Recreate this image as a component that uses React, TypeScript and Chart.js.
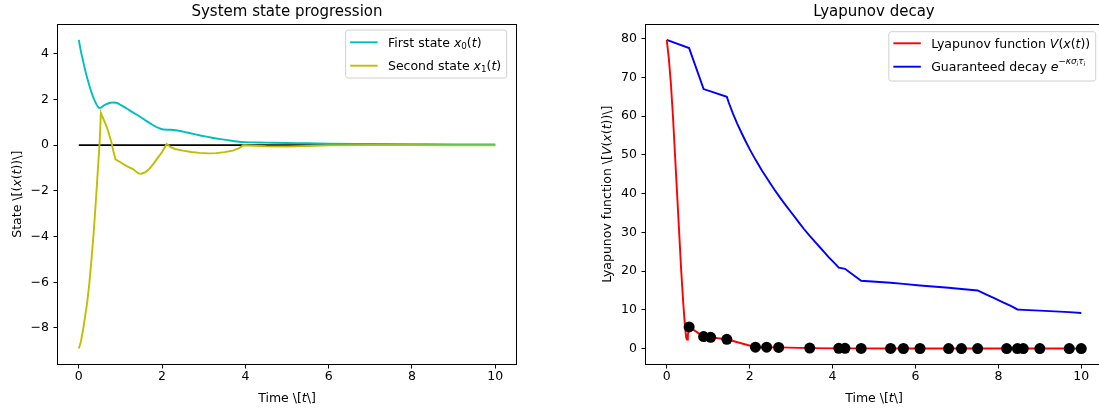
import React, { useEffect, useRef } from 'react';
import { Chart, registerables } from 'chart.js';

Chart.register(...registerables);

// ---------------- data ----------------
const xTickValues = [0, 2, 4, 6, 8, 10];
const xTickLabels = ['0', '2', '4', '6', '8', '10'];

const stateTickValues = [-8, -6, -4, -2, 0, 2, 4];
const stateTickLabels = ['\u22128', '\u22126', '\u22124', '\u22122', '0', '2', '4'];

const lyapTickValues = [0, 10, 20, 30, 40, 50, 60, 70, 80];
const lyapTickLabels = ['0', '10', '20', '30', '40', '50', '60', '70', '80'];

// First state x0(t)
const x0Times = [0, 0.05, 0.1, 0.15, 0.2, 0.25, 0.3, 0.35, 0.4, 0.45, 0.5, 0.55, 0.6, 0.7, 0.8, 0.9, 1.0, 1.15, 1.3, 1.47, 1.6, 1.79, 1.9, 2.03, 2.2, 2.4, 2.6, 2.8, 3.0, 3.2, 3.4, 3.6, 3.8, 4.0, 4.5, 5.0, 5.5, 6.0, 7.0, 8.0, 9.0, 10.0];
const x0Values = [4.6, 4.1, 3.7, 3.3, 2.95, 2.62, 2.33, 2.08, 1.87, 1.7, 1.62, 1.66, 1.73, 1.82, 1.86, 1.85, 1.76, 1.6, 1.43, 1.24, 1.08, 0.87, 0.76, 0.68, 0.67, 0.63, 0.55, 0.47, 0.39, 0.32, 0.26, 0.21, 0.16, 0.13, 0.11, 0.09, 0.08, 0.06, 0.05, 0.04, 0.03, 0.03];

// Second state x1(t)
const x1Times = [0, 0.05, 0.1, 0.15, 0.2, 0.25, 0.3, 0.35, 0.4, 0.45, 0.5, 0.53, 0.6, 0.67, 0.73, 0.79, 0.84, 0.88, 1.0, 1.15, 1.3, 1.43, 1.5, 1.6, 1.7, 1.79, 1.9, 2.0, 2.11, 2.2, 2.31, 2.5, 2.7, 2.9, 3.1, 3.3, 3.5, 3.7, 3.85, 3.95, 4.2, 4.5, 5.0, 5.5, 6.0, 7.0, 8.0, 9.0, 10.0];
const x1Values = [-8.9, -8.6, -8.1, -7.5, -6.9, -6.1, -5.1, -4.0, -2.7, -1.3, 0.1, 1.4, 1.1, 0.8, 0.45, 0.07, -0.35, -0.62, -0.75, -0.92, -1.05, -1.24, -1.25, -1.18, -1.03, -0.82, -0.55, -0.3, 0.05, -0.08, -0.17, -0.24, -0.3, -0.34, -0.36, -0.35, -0.31, -0.24, -0.13, -0.01, -0.03, -0.05, -0.06, -0.04, -0.01, 0.0, 0.0, -0.01, -0.01];

// Reference zero line
const zeroTimes = [0, 10];
const zeroValues = [0, 0];

// Lyapunov function V(x(t))
const lyapTimes = [0, 0.05, 0.1, 0.15, 0.2, 0.25, 0.3, 0.35, 0.4, 0.44, 0.47, 0.49, 0.51, 0.54, 0.89, 1.06, 1.45, 2.14, 2.41, 2.7, 3.45, 4.15, 4.3, 4.69, 5.4, 5.71, 6.11, 6.8, 7.11, 7.5, 8.2, 8.46, 8.6, 9.0, 9.71, 10.0];
const lyapValues = [79.7, 75, 68.5, 60, 50, 40, 30, 20, 11.5, 5.8, 2.8, 2.3, 3.5, 5.6, 3.1, 2.9, 2.4, 0.35, 0.35, 0.3, 0.12, 0.06, 0.05, 0.04, 0.03, 0.02, 0.02, 0.01, 0.01, 0.01, 0.01, 0, 0, 0, 0, 0];

// Triggering instants (black dots)
const sampleTimes = [0.54, 0.89, 1.06, 1.45, 2.14, 2.41, 2.7, 3.45, 4.15, 4.3, 4.69, 5.4, 5.71, 6.11, 6.8, 7.11, 7.5, 8.2, 8.46, 8.6, 9.0, 9.71, 10.0];
const sampleValues = [5.6, 3.1, 2.9, 2.4, 0.35, 0.35, 0.3, 0.12, 0.06, 0.05, 0.04, 0.03, 0.02, 0.02, 0.01, 0.01, 0.01, 0.01, 0, 0, 0, 0, 0];

// Guaranteed decay bound
const decayTimes = [0, 0.54, 0.89, 1.06, 1.45, 1.5, 1.6, 1.7, 1.8, 1.9, 2.0, 2.14, 2.3, 2.41, 2.5, 2.6, 2.7, 2.8, 2.9, 3.0, 3.1, 3.2, 3.3, 3.45, 3.6, 3.7, 3.8, 3.9, 4.0, 4.1, 4.15, 4.3, 4.69, 5.4, 5.71, 6.11, 6.8, 7.11, 7.5, 7.7, 7.9, 8.1, 8.3, 8.46, 8.6, 9.0, 9.71, 10.0];
const decayValues = [79.7, 77.6, 67.0, 66.4, 65.0, 63.4, 60.6, 58.1, 55.8, 53.6, 51.5, 48.8, 45.9, 44.1, 42.6, 41.0, 39.5, 38.0, 36.6, 35.2, 33.8, 32.4, 31.0, 29.1, 27.3, 26.1, 24.9, 23.7, 22.6, 21.5, 20.9, 20.6, 17.5, 17.0, 16.7, 16.3, 15.7, 15.4, 15.0, 14.0, 13.0, 12.0, 11.0, 10.1, 10.0, 9.8, 9.4, 9.2];

// ---------------- text helpers ----------------
type Seg = { t: string; i?: boolean; s?: number; d?: number };
const FONT = '"DejaVu Sans", "Noto Sans", sans-serif';
const BASE = 12.5;

function segFont(seg: Seg, base: number) {
  return `${seg.i ? 'italic ' : ''}${(base * (seg.s || 1)).toFixed(2)}px ${FONT}`;
}
function richWidth(ctx: CanvasRenderingContext2D, segs: Seg[], base: number) {
  let w = 0;
  for (const sg of segs) {
    ctx.font = segFont(sg, base);
    w += ctx.measureText(sg.t).width;
  }
  return w;
}
function drawRich(ctx: CanvasRenderingContext2D, segs: Seg[], x: number, y: number, base: number, align: 'left' | 'center') {
  const w = richWidth(ctx, segs, base);
  let cx = align === 'center' ? x - w / 2 : x;
  ctx.textAlign = 'left';
  ctx.textBaseline = 'alphabetic';
  for (const sg of segs) {
    ctx.font = segFont(sg, base);
    ctx.fillText(sg.t, cx, y + (sg.d || 0) * base);
    cx += ctx.measureText(sg.t).width;
  }
}

const timeLabel: Seg[] = [{ t: 'Time \\[' }, { t: 't', i: true }, { t: '\\]' }];
const stateLabel: Seg[] = [{ t: 'State \\[(' }, { t: 'x', i: true }, { t: '(' }, { t: 't', i: true }, { t: '))\\]' }];
const lyapLabel: Seg[] = [{ t: 'Lyapunov function \\[' }, { t: 'V', i: true }, { t: '(' }, { t: 'x', i: true }, { t: '(' }, { t: 't', i: true }, { t: '))\\]' }];

const legFirst: Seg[] = [{ t: 'First state ' }, { t: 'x', i: true }, { t: '0', s: 0.7, d: 0.15 }, { t: '(' }, { t: 't', i: true }, { t: ')' }];
const legSecond: Seg[] = [{ t: 'Second state ' }, { t: 'x', i: true }, { t: '1', s: 0.7, d: 0.15 }, { t: '(' }, { t: 't', i: true }, { t: ')' }];
const legLyap: Seg[] = [{ t: 'Lyapunov function ' }, { t: 'V', i: true }, { t: '(' }, { t: 'x', i: true }, { t: '(' }, { t: 't', i: true }, { t: '))' }];
const legDecay: Seg[] = [
  { t: 'Guaranteed decay ' },
  { t: 'e', i: true },
  { t: '\u2212', s: 0.7, d: -0.55 },
  { t: '\u03ba\u03c3', i: true, s: 0.7, d: -0.55 },
  { t: 'i', i: true, s: 0.49, d: -0.42 },
  { t: '\u03c4', i: true, s: 0.7, d: -0.55 },
  { t: 'i', i: true, s: 0.49, d: -0.42 },
];

type LegendItem = { color: string; segs: Seg[]; y: number };
type Deco = {
  title: string;
  xLabel: Seg[];
  yLabel: Seg[];
  yLabelX: number;
  legendRight: number;
  legendTop: number;
  legendBottom: number;
  legend: LegendItem[];
};

function decoPlugin(d: Deco) {
  return {
    id: 'deco',
    afterDraw(chart: any) {
      const ctx: CanvasRenderingContext2D = chart.ctx;
      const a = chart.chartArea;
      ctx.save();
      // frame (spines)
      ctx.strokeStyle = '#000';
      ctx.lineWidth = 1;
      const l = Math.round(a.left) - 0.5;
      const r = Math.round(a.right) + 0.5;
      const t = Math.round(a.top) - 0.5;
      const b = Math.round(a.bottom) + 0.5;
      ctx.strokeRect(l, t, r - l, b - t);

      ctx.fillStyle = '#000';
      const cx = (a.left + a.right) / 2;
      const cy = (a.top + a.bottom) / 2;
      // title
      ctx.font = `15px ${FONT}`;
      ctx.textAlign = 'center';
      ctx.textBaseline = 'alphabetic';
      ctx.fillText(d.title, cx, 15.5);
      // x label
      drawRich(ctx, d.xLabel, cx, 401.5, BASE, 'center');
      // y label
      ctx.save();
      ctx.translate(d.yLabelX, cy);
      ctx.rotate(-Math.PI / 2);
      drawRich(ctx, d.yLabel, 0, 0, BASE, 'center');
      ctx.restore();

      // legend
      let maxW = 0;
      for (const it of d.legend) maxW = Math.max(maxW, richWidth(ctx, it.segs, BASE));
      const boxR = d.legendRight;
      const textX = boxR - 5.5 - maxW;
      const handleR = textX - 10.3;
      const handleL = handleR - 27.5;
      const boxL = handleL - 4.5;
      const rad = 2.5;
      ctx.beginPath();
      const bt = d.legendTop, bb = d.legendBottom;
      ctx.moveTo(boxL + rad, bt);
      ctx.lineTo(boxR - rad, bt);
      ctx.quadraticCurveTo(boxR, bt, boxR, bt + rad);
      ctx.lineTo(boxR, bb - rad);
      ctx.quadraticCurveTo(boxR, bb, boxR - rad, bb);
      ctx.lineTo(boxL + rad, bb);
      ctx.quadraticCurveTo(boxL, bb, boxL, bb - rad);
      ctx.lineTo(boxL, bt + rad);
      ctx.quadraticCurveTo(boxL, bt, boxL + rad, bt);
      ctx.closePath();
      ctx.fillStyle = 'rgba(255,255,255,0.8)';
      ctx.fill();
      ctx.strokeStyle = '#d0d0d0';
      ctx.lineWidth = 1;
      ctx.stroke();
      for (const it of d.legend) {
        ctx.strokeStyle = it.color;
        ctx.lineWidth = 1.9;
        ctx.beginPath();
        ctx.moveTo(handleL, it.y);
        ctx.lineTo(handleR, it.y);
        ctx.stroke();
        ctx.fillStyle = '#000';
        drawRich(ctx, it.segs, textX, it.y + 4.4, BASE, 'left');
      }
      ctx.restore();
    },
  };
}

function pts(xs: number[], ys: number[]) {
  return xs.map((x, i) => ({ x, y: ys[i] }));
}

const tickFont = { family: FONT, size: BASE };

function makeConfig(p: {
  datasets: any[];
  yMin: number;
  yMax: number;
  yTicks: number[];
  yTickLabels: string[];
  padLeft: number;
  padRight: number;
  yWidth: number;
  deco: Deco;
}): any {
  const grid = { display: true, drawOnChartArea: false, drawTicks: true, tickLength: 4.5, color: '#000', lineWidth: 1 };
  return {
    type: 'line',
    data: { datasets: p.datasets },
    options: {
      responsive: false,
      animation: false,
      events: [],
      layout: { padding: { left: p.padLeft, right: p.padRight, top: 24.5, bottom: 18 } },
      plugins: { legend: { display: false }, title: { display: false }, tooltip: { enabled: false } },
      scales: {
        x: {
          type: 'linear',
          min: -0.5,
          max: 10.5,
          afterBuildTicks: (s: any) => {
            s.ticks = xTickValues.map((v) => ({ value: v }));
          },
          afterFit: (s: any) => {
            s.height = 30;
          },
          ticks: {
            font: tickFont,
            color: '#000',
            padding: 1,
            maxRotation: 0,
            autoSkip: false,
            callback: (v: number) => {
              const i = xTickValues.indexOf(v);
              return i >= 0 ? xTickLabels[i] : '';
            },
          },
          grid,
          border: { display: false },
        },
        y: {
          type: 'linear',
          min: p.yMin,
          max: p.yMax,
          afterBuildTicks: (s: any) => {
            s.ticks = p.yTicks.map((v) => ({ value: v }));
          },
          afterFit: (s: any) => {
            s.width = p.yWidth;
          },
          ticks: {
            font: tickFont,
            color: '#000',
            padding: 4.5,
            autoSkip: false,
            callback: (v: number) => {
              const i = p.yTicks.indexOf(v);
              return i >= 0 ? p.yTickLabels[i] : '';
            },
          },
          grid,
          border: { display: false },
        },
      },
    },
    plugins: [decoPlugin(p.deco)],
  };
}

function stateConfig() {
  return makeConfig({
    datasets: [
      { data: pts(x1Times, x1Values), borderColor: '#bfbf00', borderWidth: 1.9, pointRadius: 0, tension: 0, order: 0 },
      { data: pts(x0Times, x0Values), borderColor: '#00bfbf', borderWidth: 1.9, pointRadius: 0, cubicInterpolationMode: 'monotone', order: 1 },
      { data: pts(zeroTimes, zeroValues), borderColor: '#000', borderWidth: 1.9, pointRadius: 0, order: 2 },
    ],
    yMin: -9.575,
    yMax: 5.275,
    yTicks: stateTickValues,
    yTickLabels: stateTickLabels,
    padLeft: 0,
    padRight: 33,
    yWidth: 58,
    deco: {
      title: 'System state progression',
      xLabel: timeLabel,
      yLabel: stateLabel,
      yLabelX: 20.5,
      legendRight: 506.7,
      legendTop: 30,
      legendBottom: 78,
      legend: [
        { color: '#00bfbf', segs: legFirst, y: 42.3 },
        { color: '#bfbf00', segs: legSecond, y: 65.7 },
      ],
    },
  });
}

function lyapConfig() {
  return makeConfig({
    datasets: [
      { data: pts(sampleTimes, sampleValues), showLine: false, pointRadius: 5.5, pointBackgroundColor: '#000', pointBorderWidth: 0, borderColor: '#000', order: 0 },
      { data: pts(lyapTimes, lyapValues), borderColor: '#ff0000', borderWidth: 1.9, pointRadius: 0, tension: 0, order: 1 },
      { data: pts(decayTimes, decayValues), borderColor: '#0000ff', borderWidth: 1.9, pointRadius: 0, tension: 0, order: 2 },
    ],
    yMin: -3.985,
    yMax: 83.685,
    yTicks: lyapTickValues,
    yTickLabels: lyapTickLabels,
    padLeft: 47,
    padRight: 7,
    yWidth: 50,
    deco: {
      title: 'Lyapunov decay',
      xLabel: timeLabel,
      yLabel: lyapLabel,
      yLabelX: 62,
      legendRight: 546.7,
      legendTop: 31.7,
      legendBottom: 81,
      legend: [
        { color: '#ff0000', segs: legLyap, y: 43.3 },
        { color: '#0000ff', segs: legDecay, y: 66.7 },
      ],
    },
  });
}

function Plot({ left, width, build }: { left: number; width: number; build: () => any }) {
  const ref = useRef<HTMLCanvasElement>(null);
  useEffect(() => {
    const chart = new Chart(ref.current as HTMLCanvasElement, build());
    return () => chart.destroy();
  }, []);
  return (
    <canvas
      ref={ref}
      width={width}
      height={412}
      style={{ position: 'absolute', left, top: 0, width, height: 412, display: 'block' }}
    />
  );
}

export default function App() {
  return (
    <div style={{ position: 'fixed', left: 0, top: 0, width: 1099, height: 412, overflow: 'hidden', background: '#fff' }}>
      <Plot left={0} width={549} build={stateConfig} />
      <Plot left={549} width={560} build={lyapConfig} />
    </div>
  );
}
